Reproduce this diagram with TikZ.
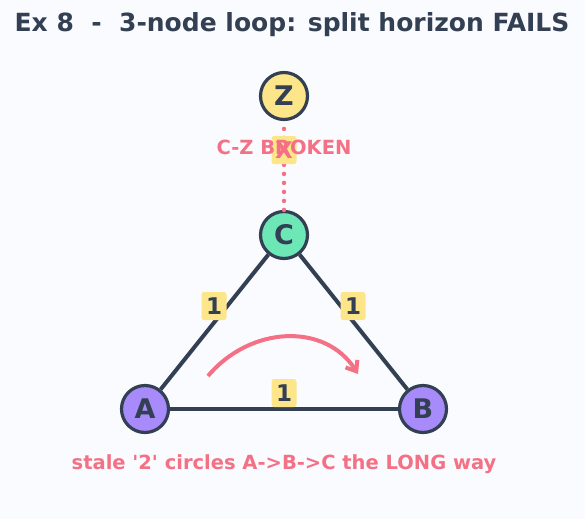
\documentclass[tikz,border=0pt]{standalone}
\usepackage{fontspec}
\setmainfont{DejaVu Sans}
\usetikzlibrary{arrows.meta}
\usepackage{xcolor}
\definecolor{LoopBg}{RGB}{250,251,254}
\definecolor{LoopInk}{RGB}{51,63,82}
\definecolor{LoopRose}{RGB}{244,113,133}
\definecolor{LoopYellow}{RGB}{253,230,138}
\definecolor{LoopMint}{RGB}{110,231,183}
\definecolor{LoopPurple}{RGB}{167,139,250}
\begin{document}
\begin{tikzpicture}[
x=1pt,y=-1pt,
router/.style={circle,draw=LoopInk,line width=3.2pt,minimum size=47pt,inner sep=0pt,
font=\fontsize{27}{27}\bfseries,text=LoopInk},
link/.style={line width=4pt,draw=LoopInk},
cost/.style={rectangle,rounded corners=2.5pt,fill=LoopYellow,minimum width=25pt,minimum height=28pt,
inner sep=1pt,font=\fontsize{23}{23}\bfseries,text=LoopInk},
arrow/.style={-{Straight Barb[length=9pt,width=14pt,line width=4pt]},line width=4pt,draw=LoopRose},
note/.style={font=\fontsize{19.5}{19.5}\bfseries,text=LoopRose}
]
\fill[LoopBg] (0,0) rectangle (585,519);
\useasboundingbox (0,0) rectangle (585,519);
\node[font=\fontsize{25}{25}\bfseries,text=LoopInk] (title) at (292,25) {Ex 8\ \ -\ \ 3-node loop: split horizon FAILS};
\node[router,fill=LoopYellow] (z) at (284,96) {Z};
\node[router,fill=LoopMint] (c) at (284,235) {C};
\node[router,fill=LoopPurple] (a) at (145,409) {A};
\node[router,fill=LoopPurple] (b) at (423,409) {B};
\draw[line width=4.5pt,draw=LoopRose,dash pattern=on 0pt off 9pt,line cap=round] (c)--(z);
\draw[link] (a)--(c); \draw[link] (c)--(b); \draw[link] (a)--(b);
\node[cost] (ac) at (214,306) {1};
\node[cost] (cb) at (353,306) {1};
\node[cost] (ab) at (284,393) {1};
\node[cost,text=LoopRose] (cz) at (284,150) {X};
\node[note] (broken) at (284,147) {C-Z BROKEN};
\coordinate (s) at (208,376); \coordinate (e) at (358,374);
\draw[arrow] (s) .. controls (250,326) and (325,322) .. (e);
\node[note] (stale) at (284,464) {stale \textquotesingle2\textquotesingle{} circles A->B->C the LONG way};
\end{tikzpicture}
\end{document}
